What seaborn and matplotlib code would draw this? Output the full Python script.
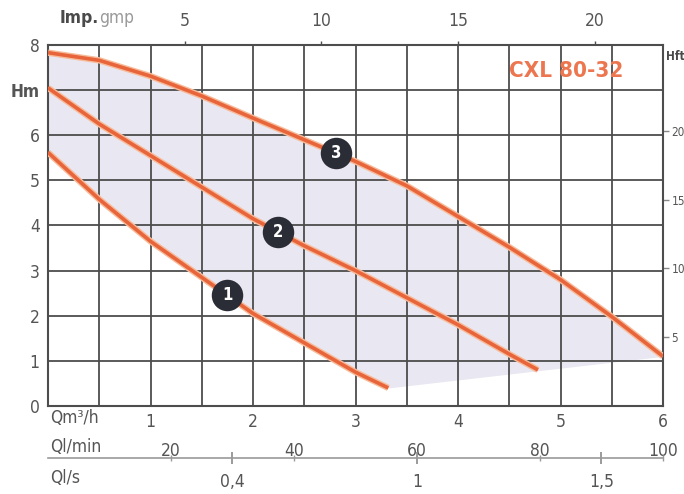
import numpy as np
import matplotlib.pyplot as plt
import seaborn as sns

# flow in m3/h, head in m
q_curve1 = [0, 0.5, 1.0, 1.5, 2.0, 2.5, 3.0, 3.32]
h_curve1 = [5.62, 4.58, 3.65, 2.85, 2.05, 1.4, 0.75, 0.4]

q_curve2 = [0, 0.5, 1.0, 1.5, 2.0, 2.5, 3.0, 3.5, 4.0, 4.5, 4.78]
h_curve2 = [7.05, 6.25, 5.55, 4.85, 4.15, 3.55, 3.0, 2.4, 1.8, 1.15, 0.8]

q_curve3 = [0, 0.5, 1.0, 1.5, 2.0, 2.5, 3.0, 3.5, 4.0, 4.5, 5.0, 5.5, 6.0]
h_curve3 = [7.83, 7.66, 7.31, 6.87, 6.38, 5.9, 5.42, 4.88, 4.2, 3.52, 2.8, 1.98, 1.1]

# speed badges sit on the curves at these flows
badge_q = [1.75, 2.24, 2.81]
badge_labels = ['1', '2', '3']

# lower edge of the shaded area after curve 1 ends
edge_q = [3.32, 6.0]
edge_h = [0.4, 1.1]

q_ticks = [1, 2, 3, 4, 5, 6]
h_ticks = [0, 1, 2, 3, 4, 5, 6, 7, 8]
h_labels = ['0', '1', '2', '3', '4', '5', '6', 'Hm', '8']
gpm_ticks = [5, 10, 15, 20]
lmin_ticks = [20, 40, 60, 80, 100]
ls_ticks = [0.5, 1, 1.5]
ls_labels = ['0,4', '1', '1,5']
ft_ticks = [5, 10, 15, 20]

sns.set_theme(style='white')
plt.rcParams['font.family'] = ['DejaVu Sans']
plt.rcParams['font.stretch'] = 'condensed'

GRID = '#4d4d4d'
TXT = '#555555'
ORANGE = '#e8643a'
GLOW = '#f7bb9a'
FILL = '#e9e7f1'
FS = 12.5

W, H = 684, 494
fig = plt.figure(figsize=(W / 100, H / 100), dpi=100)
ax = fig.add_axes([48 / W, 1 - 406 / H, (663 - 48) / W, (406 - 45) / H])

# shaded working field between top curve and curve 1 / edge line
qq = np.linspace(0, 6, 400)
upper = np.interp(qq, q_curve3, h_curve3)
lower = np.interp(qq, q_curve1 + edge_q[1:], h_curve1 + edge_h[1:])
ax.fill_between(qq, lower, upper, color=FILL, lw=0, zorder=0)

ax.set_xlim(0, 6)
ax.set_ylim(0, 8)
ax.set_xticks(q_ticks)
ax.set_xticks(np.arange(0.5, 6, 1), minor=True)
ax.set_yticks(h_ticks)
ax.set_yticklabels(h_labels)
ax.grid(which='both', color=GRID, lw=1.3, zorder=1)
ax.set_axisbelow(True)
for s in ax.spines.values():
    s.set_color(GRID)
    s.set_linewidth(1.5)
ax.tick_params(which='both', length=0, labelsize=FS, labelcolor=TXT)
ax.tick_params(axis='x', pad=5)
ax.tick_params(axis='y', pad=6)
for lab in ax.get_yticklabels():
    if lab.get_text() == 'Hm':
        lab.set_fontweight('bold')
ax.set_xlabel('')
ax.set_ylabel('')

curves = [(q_curve1, h_curve1), (q_curve2, h_curve2), (q_curve3, h_curve3)]
for q, h in curves:
    sns.lineplot(x=q, y=h, ax=ax, color=GLOW, lw=4.6, zorder=3, solid_capstyle='butt',
                 solid_joinstyle='round')
    sns.lineplot(x=q, y=h, ax=ax, color=ORANGE, lw=2.6, zorder=4, solid_capstyle='butt',
                 solid_joinstyle='round')

badge_h = [np.interp(bq, c[0], c[1]) for bq, c in zip(badge_q, curves)]
sns.scatterplot(x=badge_q, y=badge_h, ax=ax, s=440, color='#2a2c36',
                edgecolor='#2a2c36', zorder=5)
for bq, bh, lab in zip(badge_q, badge_h, badge_labels):
    ax.text(bq, bh, lab, color='white', fontsize=12, fontweight='bold',
            ha='center', va='center', zorder=6)

ax.text(5.06, 7.42, 'CXL 80-32', color='#ec7650', fontsize=16,
        fontweight='bold', ha='center', va='center', zorder=6)

# top: imperial gallons per minute
top = ax.secondary_xaxis('top', functions=(lambda q: q * 3.75, lambda g: g / 3.75))
top.set_xticks(gpm_ticks)
top.tick_params(length=3, width=1, color=GRID, pad=8, labelsize=FS, labelcolor=TXT)
top.spines['top'].set_visible(False)

# right: head in feet, squeezed against the page edge
right = ax.secondary_yaxis('right', functions=(lambda m: m * 3.28, lambda f: f / 3.28))
right.set_yticks(ft_ticks)
right.tick_params(length=4, width=1, color='#888888', pad=2, labelsize=8.5, labelcolor=TXT)
right.spines['right'].set_visible(False)

# litres per minute row
lmin = ax.secondary_xaxis(-30 / 361, functions=(lambda q: q * 1000 / 60, lambda l: l * 60 / 1000))
lmin.set_xticks(lmin_ticks)
lmin.tick_params(length=0, pad=4, labelsize=FS, labelcolor=TXT)
lmin.spines['bottom'].set_visible(False)

# litres per second row with its own rule
ls = ax.secondary_xaxis(-52 / 361, functions=(lambda q: q / 3.6, lambda l: l * 3.6))
ls.set_xticks(ls_ticks)
ls.set_xticklabels(ls_labels)
ls.set_xticks([l / 60 for l in lmin_ticks], minor=True)
ls.spines['bottom'].set_color('#9a9a9a')
ls.spines['bottom'].set_linewidth(1.2)
ls.tick_params(which='major', direction='inout', length=8, width=1.2, color='#8a8a8a',
               pad=7, labelsize=FS, labelcolor=TXT)
ls.tick_params(which='minor', direction='inout', length=4, width=1, color='#9a9a9a')

fig.text(50 / W, 1 - 418 / H, 'Qm³/h', fontsize=FS, color=TXT, va='center')
fig.text(50 / W, 1 - 447 / H, 'Ql/min', fontsize=FS, color=TXT, va='center')
fig.text(50 / W, 1 - 478 / H, 'Ql/s', fontsize=FS, color=TXT, va='center')

t1 = fig.text(60 / W, 1 - 27 / H, 'Imp.', fontsize=FS, color='#4a4a4a',
              fontweight='bold', va='bottom')
ax.annotate('gmp', xy=(1, 0), xycoords=t1, fontsize=FS, color='#9a9a9a',
            va='bottom', ha='left')
fig.text(666 / W, 1 - 57 / H, 'Hft', fontsize=8.5, color='#4a4a4a',
         fontweight='bold', va='center')

fig.savefig('out.png', dpi=100)
